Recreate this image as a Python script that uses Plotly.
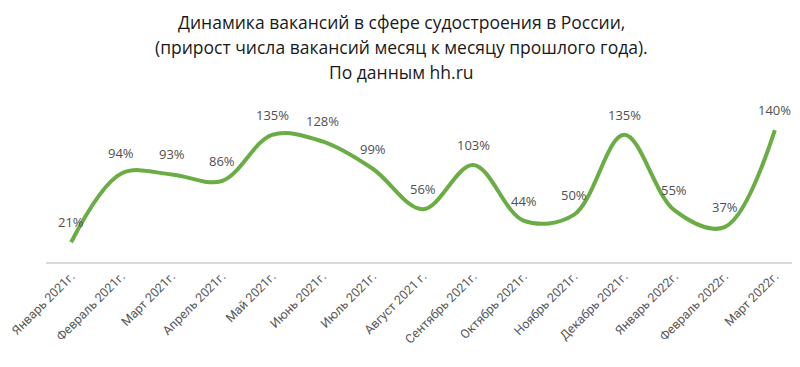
import plotly.graph_objects as go

categories = ["Январь 2021г.", "Февраль 2021г.", "Март 2021г.", "Апрель 2021г.", "Май 2021г.",
              "Июнь 2021г.", "Июль 2021г.", "Август 2021 г.", "Сентябрь 2021г.", "Октябрь 2021г.",
              "Ноябрь 2021г.", "Декабрь 2021г.", "Январь 2022г.", "Февраль 2022г.", "Март 2022г."]
values = [21, 94, 93, 86, 135, 128, 99, 56, 103, 44, 50, 135, 55, 37, 140]
labels = [f"{v}%" for v in values]

title_lines = ["Динамика вакансий в сфере судостроения в России,",
               "(прирост числа вакансий месяц к месяцу прошлого года).",
               "По данным hh.ru"]

# page body has an 8px margin, so the figure is sized/placed to compensate
W, H = 792, 359
L = 38
top, bottom = 92, 254
plot_w = W - L

fig = go.Figure()
fig.add_trace(go.Scatter(
    x=categories, y=values, mode="lines",
    line=dict(color="#6AAD45", width=4, shape="spline", smoothing=1.0),
    hoverinfo="skip", showlegend=False,
))
for c, v, t in zip(categories, values, labels):
    fig.add_annotation(x=c, y=v, text=t, showarrow=False, yshift=20,
                       font=dict(family="Open Sans", size=13, color="#505050"))

for i, line in enumerate(title_lines):
    yc = 14 + 25 * i
    fig.add_annotation(xref="paper", yref="paper", x=(393 - L) / plot_w,
                       y=1 + (top - yc) / (bottom - top),
                       text=line, showarrow=False, xanchor="center", yanchor="middle",
                       font=dict(family="Open Sans", size=17.5, color="#1a1a1a"))

fig.update_layout(
    width=W, height=H,
    margin=dict(l=L, r=0, t=top, b=H - bottom, autoexpand=False),
    paper_bgcolor="white", plot_bgcolor="white",
    xaxis=dict(type="category", range=[-0.5, 14.5], tickangle=-45, showgrid=False, automargin=False,
               showline=True, linecolor="#D9D9D9", linewidth=2, ticks="",
               tickfont=dict(family="Roboto", size=12.5, color="#595959")),
    yaxis=dict(range=[0, 172], visible=False, showgrid=False, zeroline=False, automargin=False),
)
fig.write_html("out.html")
